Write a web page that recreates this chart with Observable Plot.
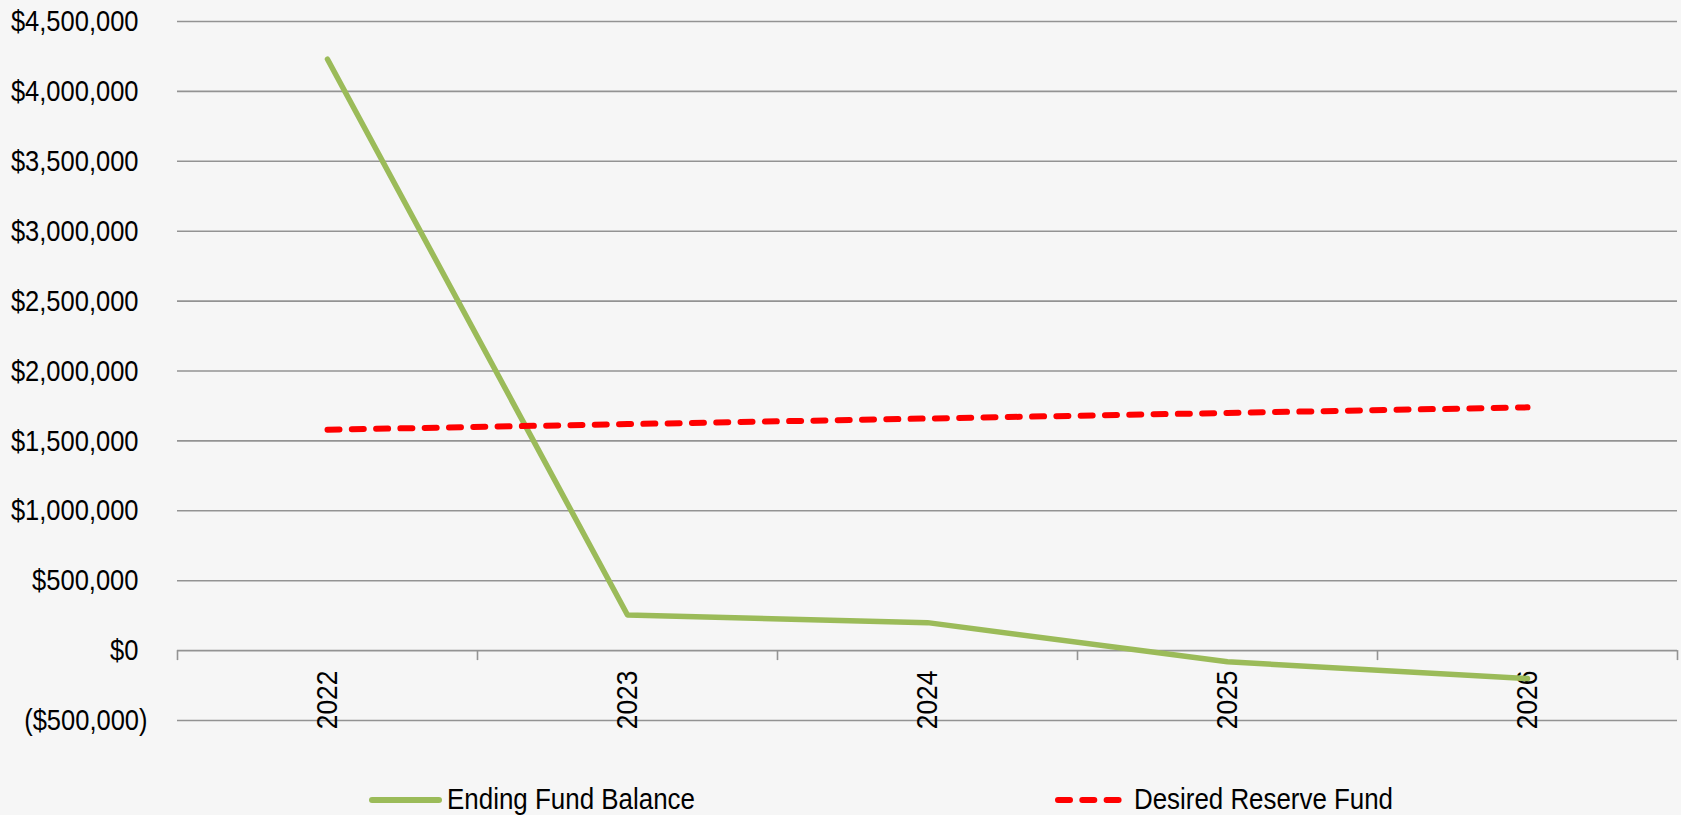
<!DOCTYPE html>
<html>
<head>
<meta charset="utf-8">
<script src="https://cdn.jsdelivr.net/npm/d3@7"></script>
<script src="https://cdn.jsdelivr.net/npm/@observablehq/plot@0.6"></script>
<style>
  html, body { margin: 0; padding: 0; background: #f6f6f6; }
  body { width: 1681px; height: 815px; overflow: hidden; font-family: "Liberation Sans", Arial, sans-serif; }
  #chart { position: relative; width: 1681px; height: 760px; }
  #legend { display: block; }
</style>
</head>
<body>
<div id="chart"></div>
<svg id="legend" width="1681" height="55"></svg>
<script>
// ---- data ----
const years = [2022, 2023, 2024, 2025, 2026];
const endingFundBalance = [4230000, 255000, 200000, -80000, -200000];
const desiredReserveFund = [1580000, 1620000, 1660000, 1700000, 1740000];
const yTicks = [-500000, 0, 500000, 1000000, 1500000, 2000000, 2500000, 3000000, 3500000, 4000000, 4500000];
const xTickEdges = [2021.5, 2022.5, 2023.5, 2024.5, 2025.5, 2026.5];
const seriesNames = ["Ending Fund Balance", "Desired Reserve Fund"];
const seriesColors = ["#9BBB59", "#FF0000"];

const rows = years.map((year, i) => ({year, ending: endingFundBalance[i], reserve: desiredReserveFund[i]}));
const fmt = (v) => v < 0 ? "($" + d3.format(",")(-v) + ")" : "$" + d3.format(",")(v);
const gridColor = "#939393";
const fontFamily = '"Liberation Sans", Arial, sans-serif';

const chart = Plot.plot({
  width: 1681,
  height: 760,
  marginLeft: 177,
  marginRight: 4,
  marginTop: 21,
  marginBottom: 40,
  x: {domain: [2021.5, 2026.5], axis: null},
  y: {domain: [-500000, 4500000], axis: null, label: null},
  style: {background: "transparent", fontFamily, fontSize: "30px", color: "#000"},
  marks: [
    Plot.ruleY(yTicks, {y: d => d, stroke: gridColor, strokeWidth: 1.6}),
    Plot.ruleX(xTickEdges, {x: d => d, y1: 0, y2: 0, insetBottom: -10, stroke: gridColor, strokeWidth: 1.6}),
    Plot.axisY({ticks: yTicks.filter(v => v >= 0), tickFormat: fmt, tickSize: 0, tickPadding: 39, label: null, fontSize: 30, fill: "#000"}),
    Plot.axisY({ticks: yTicks.filter(v => v < 0), tickFormat: fmt, tickSize: 0, tickPadding: 30, label: null, fontSize: 30, fill: "#000"}),
    Plot.text(years, {x: d => d, y: 0, text: d => String(d), rotate: -90, textAnchor: "end", lineAnchor: "middle", dy: 20, fontSize: 30, fill: "#000"}),
    Plot.line(rows, {x: "year", y: "ending", stroke: seriesColors[0], strokeWidth: 5.5, strokeLinecap: "round", strokeLinejoin: "round"}),
    Plot.line(rows, {x: "year", y: "reserve", stroke: seriesColors[1], strokeWidth: 6, strokeDasharray: "12,12.3", strokeLinecap: "round"})
  ]
});
document.getElementById("chart").appendChild(chart);

// condense the text to mimic the narrow font of the original
function condense(nodes, ratio) {
  nodes.forEach(t => {
    const len = t.getComputedTextLength();
    t.setAttribute("textLength", (len * ratio).toFixed(1));
    t.setAttribute("lengthAdjust", "spacingAndGlyphs");
  });
}
condense(chart.querySelectorAll('g[aria-label="y-axis tick label"] text'), 0.85);
condense(chart.querySelectorAll('g[aria-label="text"] text'), 0.88);

// ---- legend ----
const legend = d3.select("#legend");
const swatches = [{x1: 372, x2: 439}, {x1: 1058, x2: 1120}];
const labelX = [447, 1134];
const labelW = [248, 259];
seriesNames.forEach((name, i) => {
  legend.append("line")
    .attr("x1", swatches[i].x1).attr("x2", swatches[i].x2)
    .attr("y1", 40).attr("y2", 40)
    .attr("stroke", seriesColors[i]).attr("stroke-width", 6)
    .attr("stroke-linecap", "round")
    .attr("stroke-dasharray", i === 1 ? "12,12.3" : null);
  legend.append("text")
    .attr("x", labelX[i]).attr("y", 49)
    .attr("font-family", fontFamily).attr("font-size", 30)
    .attr("fill", "#000")
    .attr("textLength", labelW[i]).attr("lengthAdjust", "spacingAndGlyphs")
    .text(name);
});
</script>
</body>
</html>
